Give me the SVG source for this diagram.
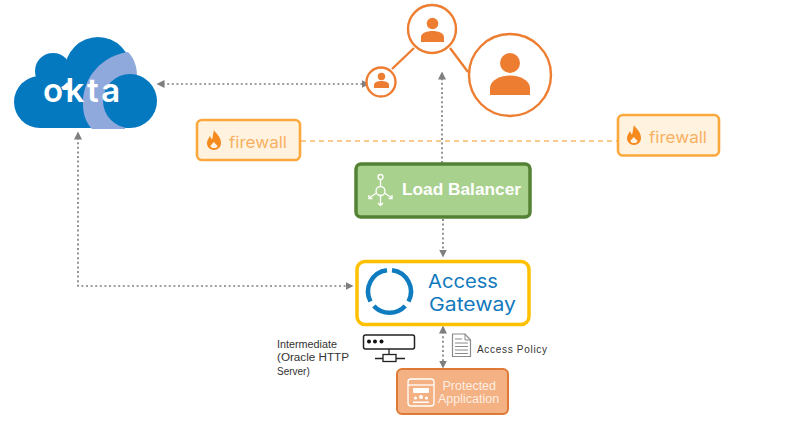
<svg xmlns="http://www.w3.org/2000/svg" width="801" height="434" viewBox="0 0 801 434">
<style>
.sans{font-family:"Liberation Sans",Arial,sans-serif}
.rnd{font-family:Inter,"Liberation Sans",sans-serif}
.dot{fill:none;stroke:#808080;stroke-width:1.7;stroke-dasharray:2 2.6}
.dash{fill:none;stroke:#f9b969;stroke-width:1.6;stroke-dasharray:5 4}
.lnk{fill:none;stroke:#ed7d31;stroke-width:2.4}
.org{fill:#ed7d31}
.ring{fill:#fff;stroke:#ed7d31;stroke-width:2.4}
.fw{fill:#fff3e0;stroke:#fca83c;stroke-width:2.6}
.fwt{fill:#f8b062;font-size:16px;font-family:Inter,"Liberation Sans",sans-serif}
.flame{fill:#f58a1f}
.cap{fill:#333;font-size:10px;font-family:"Liberation Sans",Arial,sans-serif}
.wl{fill:none;stroke:#fff;stroke-width:1.3}
</style>
<defs>
<marker id="ah" markerWidth="10" markerHeight="10" refX="6.5" refY="4" orient="auto-start-reverse" markerUnits="userSpaceOnUse"><path d="M0 0L8 4L0 8Z" fill="#7f7f7f"/></marker>
<g id="flm"><path class="flame" d="M0-11C1-8 7-5 7 2C7 6 4 9 0 9C-4 9-7 6-7 2C-7-1-5-3-4-5C-3-3-3-2-2-1.500C-1-4-1-8 0-11ZM0 1C-2 3-3.500 4-3.500 5C-3.500 6.500 -2 7 0 7C2 7 3.500 6.500 3.500 5C3.500 4 1 3 0 1Z" fill-rule="evenodd"/></g>
</defs>
<g id="connectors">
<path class="dot" d="M158 84H368" marker-start="url(#ah)" marker-end="url(#ah)"/>
<path class="dot" d="M442 163V73" marker-end="url(#ah)"/>
<path class="dot" d="M443 219V256" marker-end="url(#ah)"/>
<path class="dot" d="M78 133V286H352" marker-start="url(#ah)" marker-end="url(#ah)"/>
<path class="dot" d="M443 327V367" marker-start="url(#ah)" marker-end="url(#ah)"/>
<path class="dash" d="M301 141H617"/>
<path class="lnk" d="M392 69L414 48M450 48L468 72"/>
</g>
<g id="okta">
<circle cx="98" cy="70" r="33" fill="#0479bf"/>
<circle cx="53" cy="71" r="18" fill="#0479bf"/>
<circle cx="40" cy="102" r="26" fill="#0479bf"/>
<rect x="40" y="90" width="90" height="38" fill="#0479bf"/>
<path d="M128 52C105 55 82 75 83 105C83 115 87 124 92 129L125 129L137 75C137 65 133 57 128 52Z" fill="#8fa9dc"/>
<circle cx="130" cy="101" r="27" fill="#0479bf"/>
<text x="43" y="101.500" class="rnd" font-size="33" font-weight="600" fill="#fff" letter-spacing="2.500">okta</text>
</g>
<g id="user-small">
<circle class="ring" cx="381" cy="82" r="14.500"/>
<circle class="org" cx="381.500" cy="76.500" r="3.700"/>
<path class="org" d="M374 88V85C374 82 378 81 381.500 81C385 81 389 82 389 85V88Z"/>
</g>
<g id="user-top">
<circle class="ring" cx="432" cy="29" r="24"/>
<circle class="org" cx="432.500" cy="23.500" r="5.800"/>
<path class="org" d="M421 42V37C421 33 427 31 432.500 31C438 31 444 33 444 37V42Z"/>
</g>
<g id="user-large">
<circle class="ring" cx="510" cy="75" r="41"/>
<circle class="org" cx="510" cy="63" r="10"/>
<path class="org" d="M490 95V88C490 80 501 75.500 510 75.500C519 75.500 530 80 530 88V95Z"/>
</g>
<g id="firewall-left">
<rect class="fw" x="197" y="120" width="103" height="40" rx="5"/>
<use href="#flm" x="214" y="141"/>
<text class="fwt" x="229" y="148" textLength="58" lengthAdjust="spacingAndGlyphs">firewall</text>
</g>
<g id="firewall-right">
<rect class="fw" x="618" y="115" width="101" height="40.500" rx="5"/>
<use href="#flm" x="634" y="136"/>
<text class="fwt" x="649" y="143" textLength="58" lengthAdjust="spacingAndGlyphs">firewall</text>
</g>
<g id="load-balancer">
<rect x="356" y="164" width="174" height="53" rx="5" fill="#a9d18e" stroke="#548235" stroke-width="3.500"/>
<g class="wl">
<circle cx="380.500" cy="191" r="4.500"/>
<circle cx="380.500" cy="177" r="2.500"/>
<path d="M380.500 179.500V186.500M380.500 195.500V205M376.500 193L369 198M384.500 193L392 198M378 203L380.500 205.500L383 203M369 195L369 198.500L372.500 198.500M392 195L392 198.500L388.500 198.500"/>
</g>
<text class="sans" x="402" y="195" font-size="17" font-weight="700" fill="#fff" textLength="119" lengthAdjust="spacingAndGlyphs">Load Balancer</text>
</g>
<g id="access-gateway">
<rect x="357" y="261.500" width="172" height="63" rx="8" fill="#fff" stroke="#ffc000" stroke-width="3.500"/>
<g fill="none" stroke="#0f7cc0" stroke-width="4.500">
<path d="M387 270.200A21.500 21.500 0 0 0 370.500 301.500"/>
<path d="M392 270.200A21.500 21.500 0 0 1 408.500 301.500"/>
<path d="M373.800 306A21.500 21.500 0 0 0 405.200 306"/>
</g>
<text class="rnd" x="428" y="288" font-size="18.500" fill="#1179bd" textLength="70" lengthAdjust="spacingAndGlyphs">Access</text>
<text class="rnd" x="429" y="311" font-size="18.500" fill="#1179bd" textLength="87" lengthAdjust="spacingAndGlyphs">Gateway</text>
</g>
<g id="intermediate">
<rect x="363.500" y="335" width="51" height="14" rx="2" fill="#fff" stroke="#222" stroke-width="1.500"/>
<circle cx="369" cy="341.500" r="2" fill="#111"/><circle cx="375" cy="341.500" r="2" fill="#111"/><circle cx="381.500" cy="341.500" r="2" fill="#111"/>
<path d="M389 349V354M375 358.500H383M396 358.500H405" stroke="#222" stroke-width="1.300" fill="none"/>
<rect x="383" y="354.500" width="13" height="7" fill="#fff" stroke="#222" stroke-width="1.300"/>
<text class="cap" x="277" y="348" textLength="60" lengthAdjust="spacingAndGlyphs">Intermediate</text>
<text class="cap" x="277" y="361" textLength="72" lengthAdjust="spacingAndGlyphs">(Oracle HTTP</text>
<text class="cap" x="277" y="375">Server)</text>
</g>
<g id="access-policy">
<path d="M452.500 334H465L470.500 340V356.500H452.500Z" fill="#fff" stroke="#8a8a8a" stroke-width="1.200"/>
<path d="M465 334V340H470.500M455 339H462M455 343H468M455 346.500H468M455 350H468M455 353.500H468" fill="none" stroke="#8a8a8a" stroke-width="1"/>
<text class="cap" x="477" y="353" textLength="70" lengthAdjust="spacing">Access Policy</text>
</g>
<g id="protected-application">
<rect x="397" y="369" width="111" height="45" rx="5" fill="#f4b183" stroke="#df7a36" stroke-width="2"/>
<g fill="none" stroke="#fff" stroke-width="1.300">
<rect x="408" y="379" width="26" height="27" rx="3"/>
<path d="M408 385H434"/>
</g>
<rect x="413" y="388" width="16" height="5" rx="1" fill="#fff"/>
<circle cx="421" cy="397" r="2" fill="#fff"/><circle cx="415.500" cy="398" r="1.600" fill="#fff"/><circle cx="426.500" cy="398" r="1.600" fill="#fff"/>
<path d="M413 403V401.500H429V403Z" fill="#fff"/>
<text class="sans" x="442.500" y="390" font-size="12.500" fill="#fdeee2">Protected</text>
<text class="sans" x="438" y="403" font-size="12.500" fill="#fdeee2">Application</text>
</g>
</svg>
